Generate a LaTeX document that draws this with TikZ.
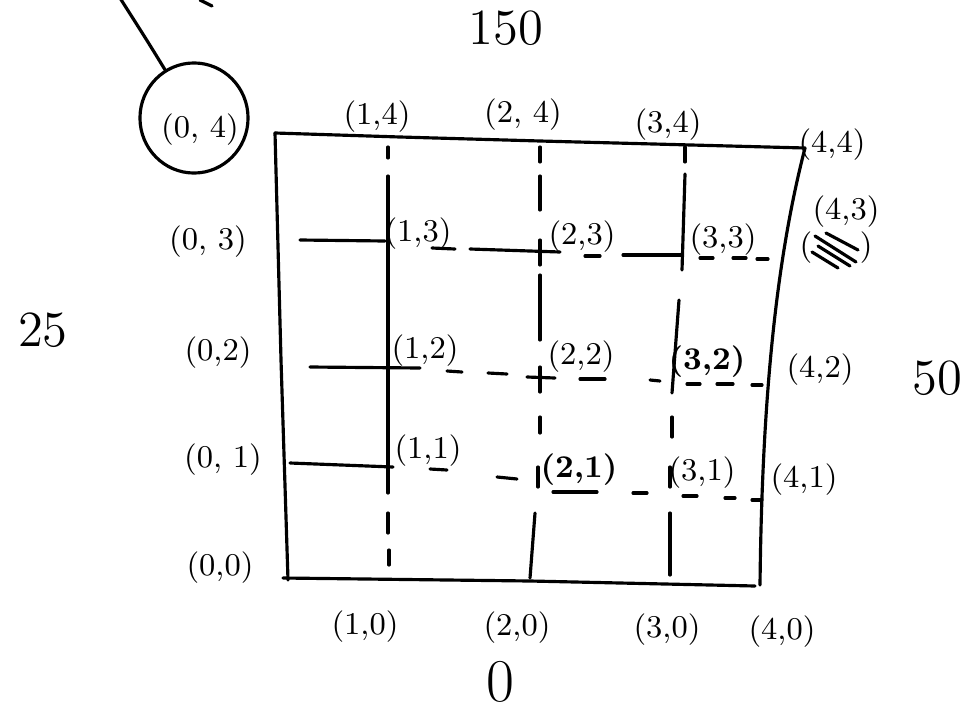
\documentclass[tikz,border=0pt]{standalone}
\usetikzlibrary{shapes.geometric}

\begin{document}
\begin{tikzpicture}[
  x=0.01cm, y=-0.01cm,
  font=\small,
  pen/.style    = {line width=0.9pt, line cap=round, black},
  lbl/.style    = {inner sep=1pt},
  side/.style   = {inner sep=1pt, font=\Large},
  ringed/.style = {ellipse, draw, line width=0.9pt, minimum width=1.08cm,
                   minimum height=1.1cm, inner sep=0pt}
]
\useasboundingbox (0,0) rectangle (967,712);

% outer frame
\draw[pen] (283,578) -- (530,581) -- (755,586);
\draw[pen] (275,133) -- (281,360) -- (288,580);
\draw[pen] (275,133) -- (400,137) -- (540,141) -- (805,148);
\draw[pen] (805,148) .. controls (776,260) and (762,400) .. (760,585);

% inner lines
\foreach \xa/\ya/\xb/\yb in {388/147/388/158, 388/176/388/493, 388/513/388/533, 389/550/389/565,
    540/147/540/162, 540/176/540/210, 540/240/540/265, 540/275/540/340, 540/367/540/392,
    540/417/540/433, 538/467/538/487, 535/513/530/578,
    685/147/685/162, 685/174/682/270, 679/300/672/393, 672/417/672/437, 670/467/670/487,
    670/513/670/575}
  \draw[pen] (\xa,\ya) -- (\xb,\yb);
\foreach \xa/\ya/\xb/\yb in {300/240/385/241, 432/248/455/249, 470/249/560/252, 585/256/600/256,
    623/255/682/255, 700/258/713/258, 733/258/746/258, 757/259/768/259,
    310/367/420/368, 447/371/462/372, 488/373/507/374, 527/377/555/378, 580/379/605/379,
    650/380/660/381, 687/384/700/384, 717/384/733/384, 752/385/762/385,
    290/463/393/467, 430/469/447/470, 497/477/517/479, 553/492/597/492, 633/493/647/493,
    683/496/697/496, 725/498/735/498, 752/500/762/500}
  \draw[pen] (\xa,\ya) -- (\xb,\yb);

% circled corner
\node[ringed] (ring) at (194,118) {};
\node[lbl] (p04) at (200,130) {(0, 4)};
\coordinate (tail) at (120,-2);
\draw[pen] (ring.121) .. controls (148,42) .. (tail);
\draw[pen] (200,0) -- (212,6);

% left column
\node[lbl] (p03) at (208,242) {(0, 3)};
\node[lbl] (p02) at (218,353) {(0,2)};
\node[lbl] (p01) at (223,460) {(0, 1)};
\node[lbl] (p00) at (220,568) {(0,0)};

% top row
\node[lbl] (p14) at (377,117) {(1,4)};
\node[lbl] (p24) at (523,115) {(2, 4)};
\node[lbl] (p34) at (668,125) {(3,4)};
\node[lbl] (p44) at (832,145) {(4,4)};

% bottom row
\node[lbl] (p10) at (365,627) {(1,0)};
\node[lbl] (p20) at (517,628) {(2,0)};
\node[lbl] (p30) at (667,630) {(3,0)};
\node[lbl] (p40) at (782,632) {(4,0)};

% right column
\node[lbl] (p43) at (846,212) {(4,3)};
\node[lbl] (p43x) at (836,248) {(\hspace{1.5em})};
\draw[pen] (815,236) -- (856,262);
\draw[pen] (818,246) -- (850,266);
\draw[pen] (826,233) -- (858,250);
\draw[pen] (812,252) -- (838,268);
\node[lbl] (p42) at (820,370) {(4,2)};
\node[lbl] (p41) at (804,480) {(4,1)};

% interior
\node[lbl] (p13) at (418,234) {(1,3)};
\node[lbl] (p23) at (582,237) {(2,3)};
\node[lbl] (p33) at (723,240) {(3,3)};
\node[lbl] (p12) at (425,351) {(1,2)};
\node[lbl] (p22) at (581,357) {(2,2)};
\node[lbl, font=\small\bfseries] (p32) at (707,362) {(3,2)};
\node[lbl] (p11) at (428,451) {(1,1)};
\node[lbl, font=\small\bfseries] (p21) at (579,470) {(2,1)};
\node[lbl] (p31) at (702,473) {(3,1)};

% side values
\node[side] (top)    at (506,28)  {150};
\node[side] (left)   at (43,330)  {25};
\node[side] (right)  at (937,378) {50};
\node[side, font=\LARGE] (bottom) at (500,682) {0};

\end{tikzpicture}
\end{document}
